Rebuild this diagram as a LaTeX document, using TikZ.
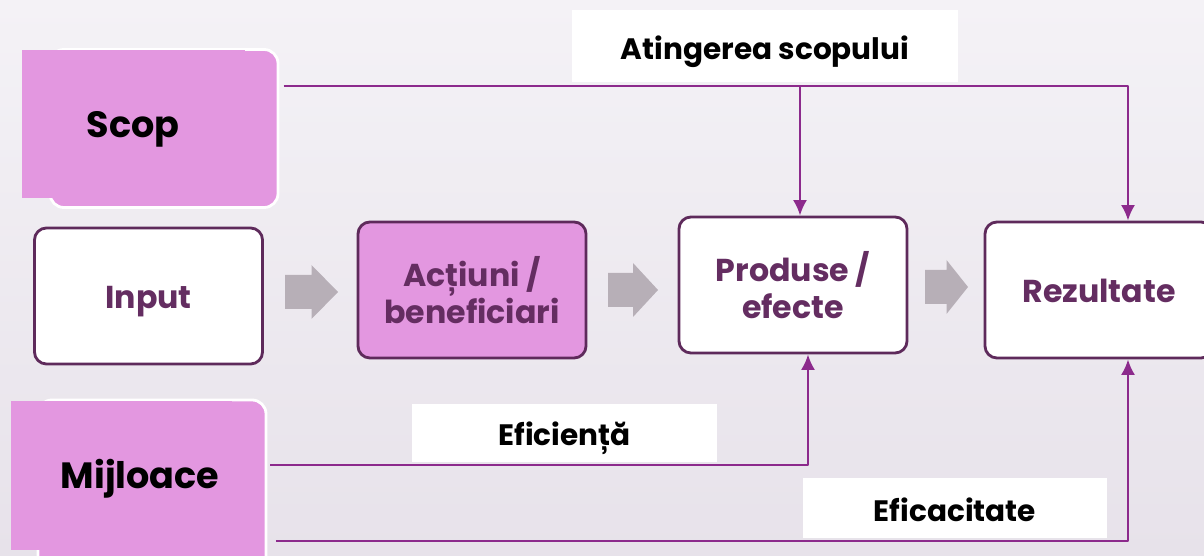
\documentclass[tikz,border=0pt]{standalone}
\usepackage{fontspec}
\setmainfont{Poppins}
\usetikzlibrary{arrows.meta}
\definecolor{roz}{HTML}{E397E0}
\definecolor{mov}{HTML}{5E2A5B}
\definecolor{textmov}{HTML}{642D61}
\definecolor{sageata}{HTML}{8C2A8C}
\definecolor{gri}{HTML}{B7AFB7}
\definecolor{fundsus}{HTML}{F4F2F6}
\definecolor{fundjos}{HTML}{E7E2EA}
\newcommand{\jos}[2][-4pt]{\raisebox{#1}[\height][\depth]{#2}}
\begin{document}
\begin{tikzpicture}[x=0.025cm, y=-0.025cm, line join=round, >={Latex[length=11pt,width=10pt]},
  cutie/.style={draw=mov, line width=2pt, fill=white, rounded corners=0.3cm, inner sep=0pt, minimum width=5.7cm, minimum height=3.4cm, align=center, text=textmov, font=\fontsize{22.5}{26}\selectfont\bfseries},
  scopcutie/.style={draw=white, line width=2pt, fill=roz, rounded corners=0.35cm, minimum width=5.7cm, minimum height=3.95cm},
  eticheta/.style={fill=white, inner sep=0pt, font=\fontsize{21}{24}\selectfont\bfseries},
  mare/.style={font=\fontsize{26}{30}\selectfont\bfseries},
  legatura/.style={->, draw=sageata, line width=1.7pt}]
\shade[top color=fundsus, bottom color=fundjos] (0,0) rectangle (1204,556);
\useasboundingbox (0,0) rectangle (1204,556);
% scop si mijloace
\node[scopcutie] (scopbox) at (164,128.5) {};
\fill[roz] (22,50) rectangle (245,198);
\node[mare] (scop) at (133,129) {Scop};
\node[scopcutie, minimum height=4.4cm] (mijbox) at (152,488) {};
\fill[roz] (11,401) rectangle (232,550);
\node[mare] (mij) at (140,479) {Mijloace};
% lantul principal
\node[cutie] (inp) at (148.5,296) {\jos{Input}};
\node[cutie, fill=roz] (act) at (472,290) {Acțiuni /\\beneficiari};
\node[cutie] (prod) at (793,285) {Produse /\\efecte};
\node[cutie] (rez) at (1099,290) {\jos[-1pt]{Rezultate}};
\foreach \x/\y/\l in {285/292/53, 608/290/50, 925/287/43}{
\fill[gri] (\x,\y-17) -- (\x+\l/2,\y-17) -- (\x+\l/2,\y-27) -- (\x+\l,\y) -- (\x+\l/2,\y+27) -- (\x+\l/2,\y+17) -- (\x,\y+17) -- cycle;
}
% etichete
\node[eticheta, minimum width=9.65cm, minimum height=1.8cm] (ating) at (765,46) {\jos{Atingerea scopului}};
\node[eticheta, minimum width=7.6cm, minimum height=1.45cm] (efic) at (564.5,433) {\jos{Eficiență}};
\node[eticheta, minimum width=7.6cm, minimum height=1.5cm] (eficac) at (955,508) {\jos[-1.5pt]{Eficacitate}};
% legaturi
\coordinate (c1) at (1128,86);
\coordinate (c2) at (800,86);
\coordinate (c3) at (808,465);
\coordinate (c4) at (1128,541);
\draw[legatura] ([xshift=3pt]scopbox.east |- c1) -- (c1) -- (rez.north -| c1);
\draw[legatura] (c2) -- (prod.north -| c2);
\draw[legatura] ([xshift=2pt]mijbox.east |- c3) -- (c3) -- (prod.south -| c3);
\draw[legatura] ([xshift=6pt]mijbox.east |- c4) -- (c4) -- (rez.south -| c4);
\end{tikzpicture}
\end{document}
